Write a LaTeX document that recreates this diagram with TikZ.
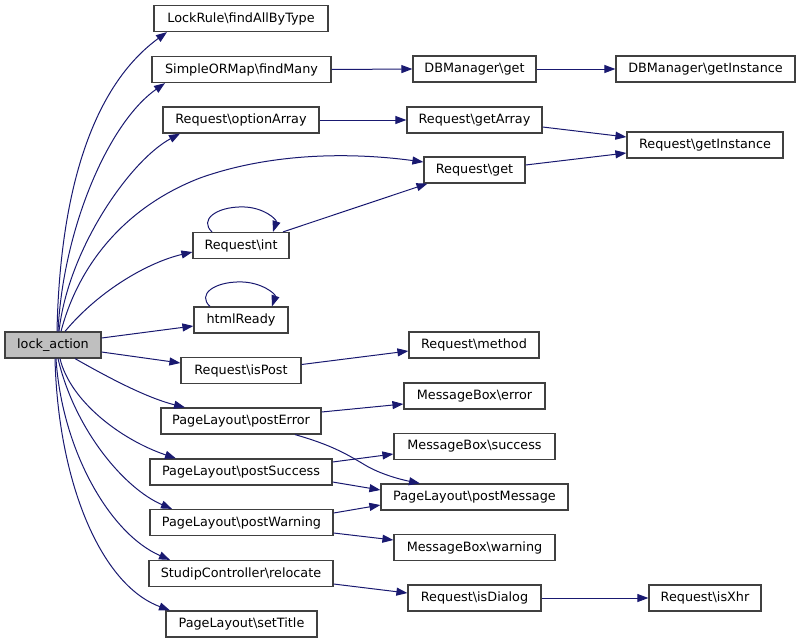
\documentclass[tikz,border=0pt]{standalone}
\usepackage{fontspec}
\setmainfont{DejaVu Sans}
\usetikzlibrary{arrows.meta,calc}
\definecolor{edgec}{HTML}{191970}
\definecolor{nodeb}{HTML}{404040}
\definecolor{nodef}{HTML}{BFBFBF}
\begin{document}
\begin{tikzpicture}[x=1pt,y=-1pt,
  fn/.style={draw=nodeb,line width=1.2pt,fill=white,inner sep=0pt,minimum height=26pt,
    font=\fontsize{12.8}{15}\selectfont,text=black},
  call/.style={draw=edgec,line width=1pt,-{Triangle[length=11pt,width=8pt]}}]
\useasboundingbox (0,0) rectangle (800,643);
% nodes
\node[fn,fill=nodef,minimum width=96pt] (lock) at (53,345) {lock\_action};
\node[fn,minimum width=174pt] (lockrule) at (241,18.5) {LockRule\textbackslash findAllByType};
\node[fn,minimum width=179pt] (findmany) at (241.5,69.5) {SimpleORMap\textbackslash findMany};
\node[fn,minimum width=156pt] (optarr) at (241,120) {Request\textbackslash optionArray};
\node[fn,minimum width=96pt] (reqint) at (241,245.5) {Request\textbackslash int};
\node[fn,minimum width=94pt] (html) at (241,320) {htmlReady};
\node[fn,minimum width=120pt] (ispost) at (241,370.5) {Request\textbackslash isPost};
\node[fn,minimum width=160pt] (posterror) at (241,421) {PageLayout\textbackslash postError};
\node[fn,minimum width=182pt] (postsuccess) at (241,472) {PageLayout\textbackslash postSuccess};
\node[fn,minimum width=183pt] (postwarning) at (241.5,522.5) {PageLayout\textbackslash postWarning};
\node[fn,minimum width=184pt] (relocate) at (241,573.5) {StudipController\textbackslash relocate};
\node[fn,minimum width=151pt] (settitle) at (241.5,624) {PageLayout\textbackslash setTitle};
\node[fn,minimum width=123pt] (dbget) at (474.5,69) {DBManager\textbackslash get};
\node[fn,minimum width=179pt] (dbinst) at (705.5,69) {DBManager\textbackslash getInstance};
\node[fn,minimum width=135pt] (getarray) at (474.5,120) {Request\textbackslash getArray};
\node[fn,minimum width=156pt] (getinst) at (705,145) {Request\textbackslash getInstance};
\node[fn,minimum width=101pt] (reqget) at (474.5,170) {Request\textbackslash get};
\node[fn,minimum width=130pt] (method) at (474,345) {Request\textbackslash method};
\node[fn,minimum width=141pt] (mberror) at (474.5,396) {MessageBox\textbackslash error};
\node[fn,minimum width=161pt] (mbsuccess) at (474.5,446.5) {MessageBox\textbackslash success};
\node[fn,minimum width=187pt] (postmsg) at (474.5,497) {PageLayout\textbackslash postMessage};
\node[fn,minimum width=161pt] (mbwarning) at (474.5,547.5) {MessageBox\textbackslash warning};
\node[fn,minimum width=133pt] (isdialog) at (474.5,598) {Request\textbackslash isDialog};
\node[fn,minimum width=112pt] (isxhr) at (705,598) {Request\textbackslash isXhr};
% edges from lock_action
\draw[call] ($(lock.north)+(4,0)$) .. controls +(3,-142) and +(-74,54) .. ($(lockrule.south)+(-74,0)$);
\draw[call] ($(lock.north)+(5,0)$) .. controls +(5,-102) and +(-57,40) .. ($(findmany.south)+(-76.5,0)$);
\draw[call] ($(lock.north)+(6,0)$) .. controls +(9,-82) and +(-50,27) .. ($(optarr.south)+(-61,0)$);
\draw[call] ($(lock.north)+(8,0)$) .. controls +(19,-72) and +(-70,27) .. (200,178)
   .. controls +(70,-25) and +(-74,-10) .. ($(reqget.west)+(0,-8)$);
\draw[call] ($(lock.north)+(12,0)$) .. controls +(35,-42) and +(-43,10) .. ($(reqint.west)+(0,6.5)$);
\draw[call] ($(lock.east)+(0,-7)$) -- ($(html.west)+(0,6)$);
\draw[call] ($(lock.east)+(0,7)$) -- ($(ispost.west)+(0,-7.5)$);
\draw[call] ($(lock.south)+(22,0)$) .. controls +(30,17) and +(-40,-10) .. ($(posterror.north)+(-56,0)$);
\draw[call] ($(lock.south)+(7,0)$) .. controls +(10,42) and +(-56,-19) .. ($(postsuccess.north)+(-65,0)$);
\draw[call] ($(lock.south)+(5,0)$) .. controls +(17,72) and +(-47,-20) .. ($(postwarning.north)+(-69.5,0)$);
\draw[call] ($(lock.south)+(3,0)$) .. controls +(6,92) and +(-60,-26) .. ($(relocate.north)+(-71,0)$);
\draw[call] ($(lock.south)+(2,0)$) .. controls +(3,122) and +(-70,-26) .. ($(settitle.north)+(-71.5,0)$);
% self loops
\draw[call] ($(reqint.north)+(-29,0)$) .. controls +(-13,-12) and +(-26,0) .. ($(reqint.north)+(1,-25)$)
   .. controls +(22,0) and +(4,-12) .. ($(reqint.north)+(32,0)$);
\draw[call] ($(html.north)+(-31,0)$) .. controls +(-13,-12) and +(-26,0) .. ($(html.north)+(-1,-24.5)$)
   .. controls +(22,0) and +(4,-12) .. ($(html.north)+(31,0)$);
% other edges
\draw[call] (findmany.east) -- (dbget.west);
\draw[call] (dbget.east) -- (dbinst.west);
\draw[call] (optarr.east) -- (getarray.west);
\draw[call] ($(getarray.east)+(0,7)$) -- ($(getinst.west)+(0,-8)$);
\draw[call] ($(reqget.east)+(0,-5)$) -- ($(getinst.west)+(0,8)$);
\draw[call] ($(reqint.north)+(42,0)$) -- ($(reqget.south)+(-47,0)$);
\draw[call] ($(ispost.east)+(0,-6)$) -- ($(method.west)+(0,6)$);
\draw[call] ($(posterror.east)+(0,-9)$) -- ($(mberror.west)+(0,8)$);
\draw[call] ($(posterror.south)+(54,0)$) .. controls +(35,10) and +(-20,-12) .. (365,465)
   .. controls +(15,9) and +(-20,-4) .. ($(postmsg.north)+(-54.5,0)$);
\draw[call] ($(postsuccess.east)+(0,-10)$) -- ($(mbsuccess.west)+(0,7.5)$);
\draw[call] ($(postsuccess.east)+(0,10)$) -- ($(postmsg.west)+(0,-7)$);
\draw[call] ($(postwarning.east)+(0,-9.5)$) -- ($(postmsg.west)+(0,8)$);
\draw[call] ($(postwarning.east)+(0,10.5)$) -- ($(mbwarning.west)+(0,-7.5)$);
\draw[call] ($(relocate.east)+(0,10.5)$) -- ($(isdialog.west)+(0,-5)$);
\draw[call] (isdialog.east) -- (isxhr.west);
\end{tikzpicture}
\end{document}
